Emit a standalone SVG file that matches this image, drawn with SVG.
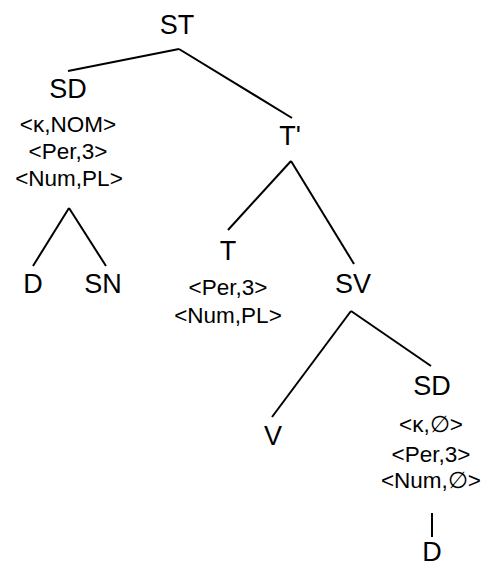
<svg xmlns="http://www.w3.org/2000/svg" width="485" height="561" viewBox="0 0 485 561">
<style>
text{font-family:"Liberation Sans",Arial,sans-serif;fill:#000;text-anchor:middle}
.b{font-size:27px}
.s{font-size:22.5px}
.e{stroke:#000;stroke-width:2;fill:none;stroke-linecap:butt}
</style>
<rect width="485" height="561" fill="#fff"/>
<g id="connectors">
<line class="e" x1="179" y1="49" x2="68" y2="71"/>
<line class="e" x1="179" y1="49" x2="292" y2="118"/>
<line class="e" x1="69" y1="208" x2="33" y2="266"/>
<line class="e" x1="69" y1="208" x2="106" y2="266"/>
<line class="e" x1="291" y1="161" x2="228" y2="230"/>
<line class="e" x1="291" y1="161" x2="354" y2="264"/>
<line class="e" x1="351" y1="311" x2="272" y2="417"/>
<line class="e" x1="351" y1="311" x2="431" y2="366"/>
<line class="e" x1="432" y1="513" x2="432" y2="537"/>
</g>
<g id="ST"><text class="b" x="177" y="34">ST</text></g>
<g id="SD1">
<text class="b" x="68" y="98">SD</text>
<text class="s" x="68" y="132">&lt;κ,NOM&gt;</text>
<text class="s" x="68" y="159">&lt;Per,3&gt;</text>
<text class="s" x="69" y="186">&lt;Num,PL&gt;</text>
</g>
<g id="D1"><text class="b" x="33" y="293">D</text></g>
<g id="SN"><text class="b" x="103" y="293">SN</text></g>
<g id="Tbar"><text class="b" x="290" y="145">T'</text></g>
<g id="T">
<text class="b" x="228" y="260">T</text>
<text class="s" x="228" y="295">&lt;Per,3&gt;</text>
<text class="s" x="228" y="323">&lt;Num,PL&gt;</text>
</g>
<g id="SV"><text class="b" x="353" y="293">SV</text></g>
<g id="V"><text class="b" x="273" y="445">V</text></g>
<g id="SD2">
<text class="b" x="432" y="395">SD</text>
<text class="s" x="431" y="432">&lt;κ,∅&gt;</text>
<text class="s" x="431" y="462">&lt;Per,3&gt;</text>
<text class="s" x="431" y="488">&lt;Num,∅&gt;</text>
</g>
<g id="D2"><text class="b" x="432" y="561">D</text></g>
</svg>
